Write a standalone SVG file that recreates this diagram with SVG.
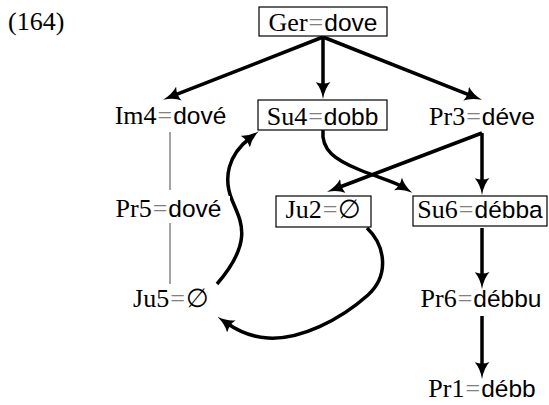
<svg xmlns="http://www.w3.org/2000/svg" width="549" height="405" viewBox="0 0 549 405">
<style>
  text { font-family: "Liberation Serif", "DejaVu Serif", serif; font-size: 26px; fill: #000; }
  .n { text-anchor: middle; }
  .s { font-family: "Liberation Sans", "DejaVu Sans", sans-serif; font-size: 24.5px; }
  .eq { fill: #808080; }
  .box { fill: #fff; stroke: #000; stroke-width: 1.2; }
  .arr { fill: none; stroke: #000; stroke-width: 3.5; marker-end: url(#ah); }
  .thin { stroke: #666; stroke-width: 1.2; }
</style>
<defs>
  <marker id="ah" markerUnits="userSpaceOnUse" viewBox="0 0 17 15" refX="6" refY="7.5" markerWidth="17" markerHeight="15" orient="auto">
    <path d="M0,0 Q6,5.5 17,7.5 Q6,9.5 0,15 Q3,7.5 0,0 Z" fill="#000"/>
  </marker>
</defs>

<text x="8" y="30">(164)</text>

<g id="connectors">
  <line class="thin" x1="170" y1="132" x2="170" y2="190"/>
  <line class="thin" x1="170" y1="223" x2="170" y2="284"/>
  <path class="arr" d="M323,37 L173.3,95.7"/>
  <path class="arr" d="M323,37 L323,88"/>
  <path class="arr" d="M323,37 L471.7,95.8"/>
  <path class="arr" d="M482,133 L482,184"/>
  <path class="arr" d="M482,133 L337.3,188"/>
  <path class="arr" d="M482,228 L482,278"/>
  <path class="arr" d="M482,316 L482,368"/>
  <path class="arr" d="M323,130 C321,150 335,160 360,170 C380,178 395,182 403,187"/>
  <path class="arr" d="M217,284 C255,240 240,220 232,200 C223,178 228,155 250,138"/>
  <path class="arr" d="M367,228 C385,245 390,275 368,295 C340,320 300,340 268,338 C250,337 238,331 226.5,323"/>
</g>

<g id="ger">
  <rect class="box" x="259" y="7" width="128" height="29"/>
  <text class="n" x="323" y="31">Ger<tspan class="eq" dx="1">=</tspan><tspan class="s" dx="1">dove</tspan></text>
</g>
<g id="im4">
  <text class="n" x="170.5" y="124">Im4<tspan class="eq" dx="1">=</tspan><tspan class="s" dx="1">dové</tspan></text>
</g>
<g id="su4">
  <rect class="box" x="258" y="100" width="129" height="30"/>
  <text class="n" x="322.5" y="125">Su4<tspan class="eq" dx="1">=</tspan><tspan class="s" dx="1">dobb</tspan></text>
</g>
<g id="pr3">
  <text class="n" x="482" y="125">Pr3<tspan class="eq" dx="1">=</tspan><tspan class="s" dx="1">déve</tspan></text>
</g>
<g id="pr5">
  <rect x="108" y="196" width="122" height="26" fill="#fff"/>
  <text class="n" x="168.5" y="217">Pr5<tspan class="eq" dx="1">=</tspan><tspan class="s" dx="1">dové</tspan></text>
</g>
<g id="ju2">
  <rect class="box" x="276" y="196" width="95" height="31"/>
  <text class="n" x="323.5" y="218">Ju2<tspan class="eq" dx="1">=</tspan><tspan dx="1">∅</tspan></text>
</g>
<g id="su6">
  <rect class="box" x="413" y="196" width="134" height="30"/>
  <text class="n" x="480" y="218">Su6<tspan class="eq" dx="1">=</tspan><tspan class="s" dx="1">débba</tspan></text>
</g>
<g id="ju5">
  <text class="n" x="171" y="307">Ju5<tspan class="eq" dx="1">=</tspan><tspan dx="1">∅</tspan></text>
</g>
<g id="pr6">
  <text class="n" x="481" y="307">Pr6<tspan class="eq" dx="1">=</tspan><tspan class="s" dx="1">débbu</tspan></text>
</g>
<g id="pr1">
  <text class="n" x="482" y="397">Pr1<tspan class="eq" dx="1">=</tspan><tspan class="s" dx="1">débb</tspan></text>
</g>
</svg>
